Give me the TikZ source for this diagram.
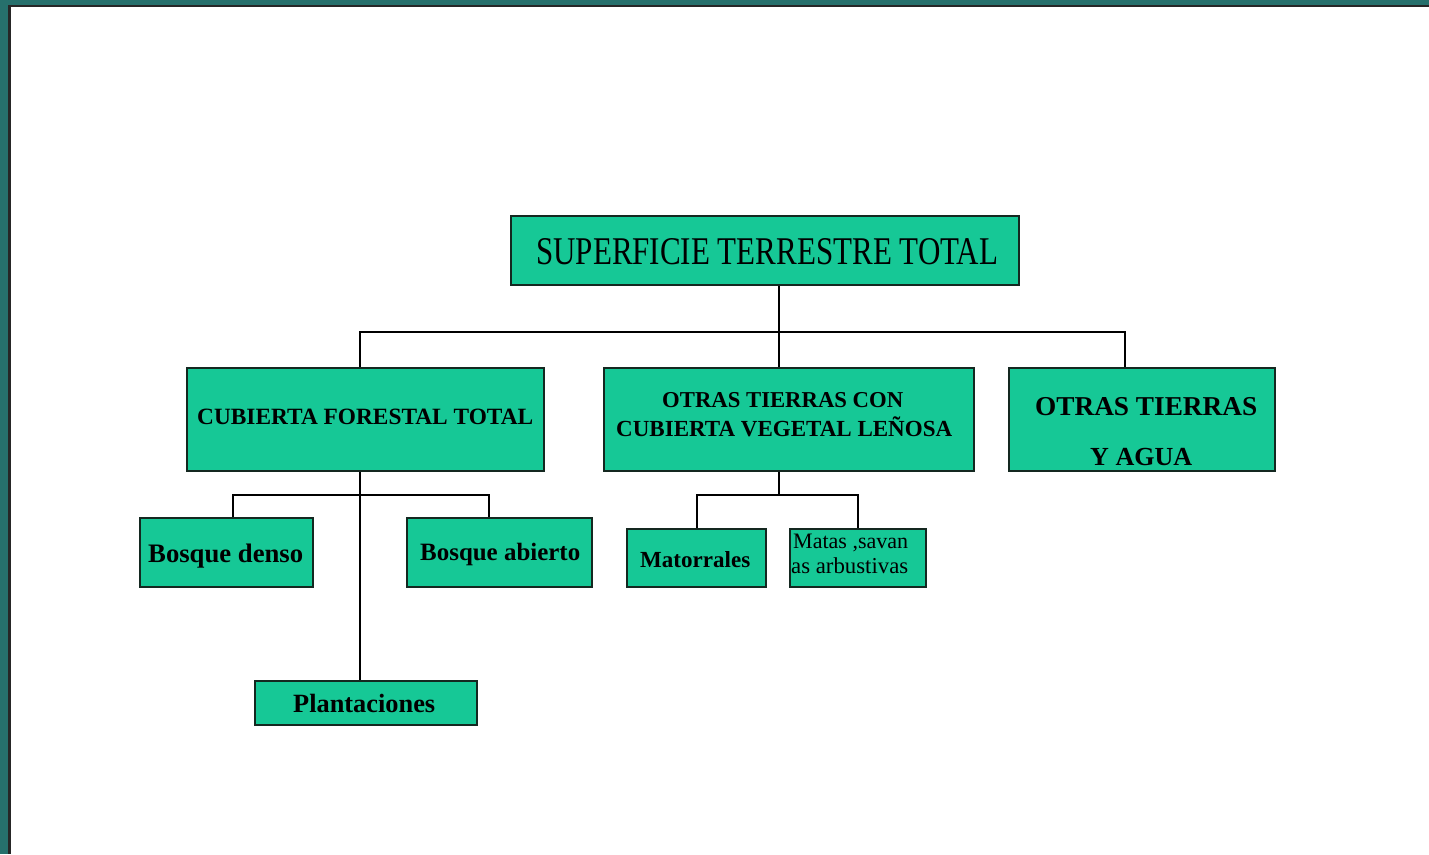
\documentclass[tikz,border=0pt]{standalone}
\usepackage{fontspec}
\setmainfont{Liberation Serif}
\usepackage{graphicx}
\definecolor{frameteal}{RGB}{38,112,108}
\definecolor{boxfill}{RGB}{22,200,150}
\definecolor{boxline}{RGB}{20,40,32}
% text squeezed to a given width (and optionally height), in pt
\newcommand\fitw[2]{\resizebox{#1pt}{!}{#2}}
\newcommand\fitwh[3]{\resizebox{#1pt}{#2pt}{#3}}
\tikzset{
  box/.style={draw=boxline, fill=boxfill, line width=2pt, inner sep=0pt},
  conn/.style={draw=black, line width=1.8pt},
  lbl/.style={inner sep=0pt, anchor=base west, text=black}
}
\begin{document}
\begin{tikzpicture}[x=1pt,y=-1pt]
  % slide background with its frame
  \fill[frameteal] (0,0) rectangle (1429,854);
  \fill[black!85] (8,5) rectangle (1429,854);
  \fill[white] (11,7) rectangle (1429,854);
  \useasboundingbox (0,0) rectangle (1429,854);

  % boxes
  \node[box, minimum width=508pt, minimum height=69pt]  (top)   at (765,250.5) {};
  \node[box, minimum width=357pt, minimum height=103pt] (cub)   at (365.5,419.5) {};
  \node[box, minimum width=370pt, minimum height=103pt] (otras) at (789,419.5) {};
  \node[box, minimum width=266pt, minimum height=103pt] (agua)  at (1142,419.5) {};
  \node[box, minimum width=173pt, minimum height=69pt]  (bden)  at (226.5,552.5) {};
  \node[box, minimum width=185pt, minimum height=69pt]  (babi)  at (499.5,552.5) {};
  \node[box, minimum width=222pt, minimum height=44pt]  (plant) at (366,703) {};
  \node[box, minimum width=139pt, minimum height=58pt]  (mato)  at (696.5,558) {};
  \node[box, minimum width=136pt, minimum height=58pt]  (matas) at (858,558) {};

  % labels
  \node[lbl] (tTop) at (536,264) {\fitwh{462}{26}{SUPERFICIE TERRESTRE TOTAL}};
  \node[lbl] (tCub) at (197,424) {\fitw{336}{\bfseries CUBIERTA FORESTAL TOTAL}};
  \node[lbl] (tOt1) at (662,407) {\fitw{241}{\bfseries OTRAS TIERRAS CON}};
  \node[lbl] (tOt2) at (616,436) {\fitw{336}{\bfseries CUBIERTA VEGETAL LEÑOSA}};
  \node[lbl] (tAg1) at (1035,415) {\fitw{222}{\bfseries OTRAS TIERRAS}};
  \node[lbl] (tAg2) at (1090,465) {\fitw{102}{\bfseries Y AGUA}};
  \node[lbl] (tBd)  at (148,562) {\fitw{155}{\bfseries Bosque denso}};
  \node[lbl] (tBa)  at (420,560) {\fitw{160}{\bfseries Bosque abierto}};
  \node[lbl] (tPl)  at (293,712) {\fitw{142}{\bfseries Plantaciones}};
  \node[lbl] (tMa)  at (640,567) {\fitw{110}{\bfseries Matorrales}};
  \node[lbl] (tMs1) at (793,548) {\fitw{115}{Matas ,savan}};
  \node[lbl] (tMs2) at (791,573) {\fitw{117}{as arbustivas}};

  % connector positions
  \coordinate (stemA) at (779,332);
  \coordinate (busA)  at (360,332);
  \coordinate (busB)  at (1125,332);
  \coordinate (stemB) at (360,495);
  \coordinate (bL)    at (233,495);
  \coordinate (bR)    at (489,495);
  \coordinate (stemC) at (779,495);
  \coordinate (mL)    at (697,495);
  \coordinate (mR)    at (858,495);

  % first level
  \draw[conn] (stemA |- top.south) -- (stemA |- otras.north);
  \draw[conn] (busA |- cub.north) |- (busB) -- (busB |- agua.north);
  % forest cover branch
  \draw[conn] (stemB |- cub.south) -- (stemB |- plant.north);
  \draw[conn] (bL |- bden.north) |- (bR) -- (bR |- babi.north);
  % woody vegetation branch
  \draw[conn] (stemC |- otras.south) -- (stemC);
  \draw[conn] (mL |- mato.north) |- (mR) -- (mR |- matas.north);
\end{tikzpicture}
\end{document}
